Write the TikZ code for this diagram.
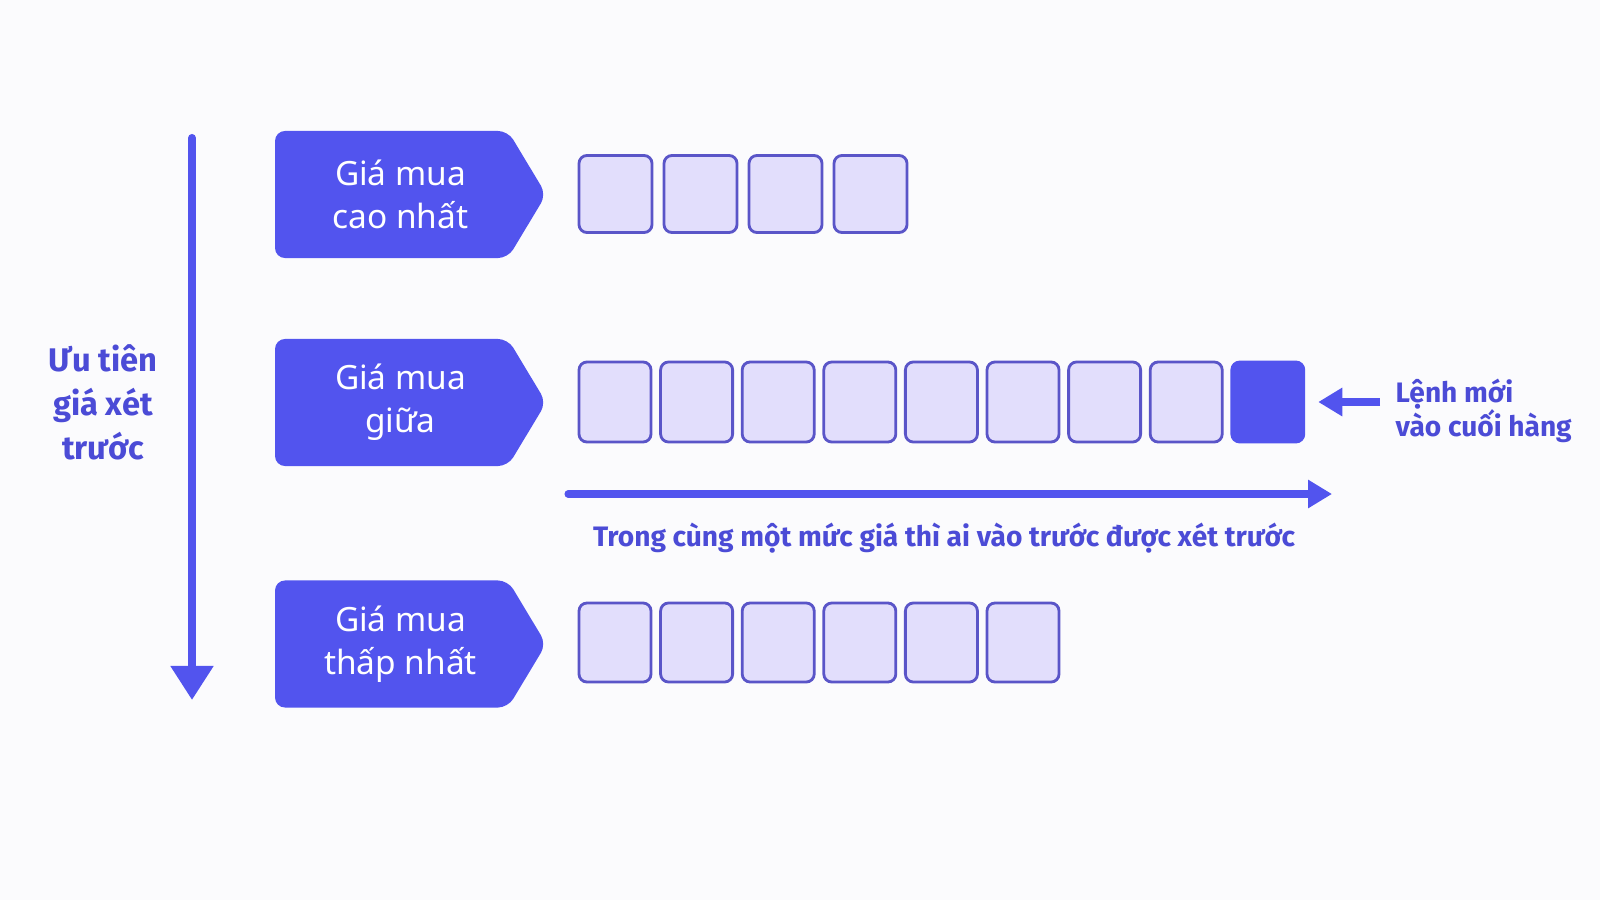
\documentclass[tikz,border=0pt]{standalone}
\usepackage{fontspec}
\setmainfont{Fira Sans}
\newfontfamily\tagfont{Noto Sans}
\usetikzlibrary{arrows.meta,shapes.symbols}

\definecolor{tagblue}{HTML}{5254EE}
\definecolor{inkblue}{HTML}{4B4BD6}
\definecolor{slotfill}{HTML}{E2DEFC}
\definecolor{slotline}{HTML}{5A55C8}
\definecolor{bg}{HTML}{FBFBFD}

\tikzset{
  tag/.style={shape=signal, signal to=east, signal pointer angle=118,
    fill=tagblue, rounded corners=0.1cm, minimum width=2.71cm, minimum height=1.27cm,
    inner sep=0pt},
  tagtext/.style={text=white, align=center, inner sep=0pt,
    font=\tagfont\fontsize{9.5}{12.2}\selectfont},
  slot/.style={draw=slotline, fill=slotfill, line width=0.8pt, rounded corners=0.08cm,
    minimum width=0.72cm, minimum height=0.8cm, inner sep=0pt},
  newslot/.style={slot, draw=tagblue, fill=tagblue},
  note/.style={text=inkblue, inner sep=0pt, font=\bfseries\fontsize{8}{9.7}\selectfont},
  arr/.style={draw=tagblue, line width=2pt, -{Triangle[width=0.27cm,length=0.24cm]}}
}

\begin{document}
\begin{tikzpicture}[x=0.01cm, y=-0.01cm]
  % canvas
  \fill[bg] (0,0) rectangle (1600,900);

  % Price priority arrow
  \coordinate (prio top) at (192,138);
  \coordinate (prio end) at (192,700);
  \draw[draw=tagblue, line width=2.3pt, line cap=round, -{Triangle[width=0.41cm,length=0.34cm]}] (prio top) -- (prio end);
  \node[note, align=center, font=\bfseries\fontsize{9.3}{12.5}\selectfont] (prio) at (103,402) {Ưu tiên\\giá xét\\trước};

  % Price levels
  \node[tag] (high) at (391.5,194.5) {};
  \node[tag] (mid) at (391.5,402.5) {};
  \node[tag] (low) at (391.5,644) {};
  \node[tagtext] (high txt) at ([xshift=0.09cm]high.center) {Giá mua\\cao nhất};
  \node[tagtext] (mid txt) at ([xshift=0.09cm]mid.center) {Giá mua\\giữa};
  \node[tagtext] (low txt) at ([xshift=0.09cm]low.center) {Giá mua\\thấp nhất};

  % Queues
  \foreach \i in {0,...,3}
    \node[slot, minimum width=0.73cm, minimum height=0.77cm] (h\i) at (615.5+85*\i,194) {};
  \foreach \i in {0,...,7}
    \node[slot] (m\i) at (615+81.6*\i,402) {};
  \node[newslot] (new) at (615+81.6*8,402) {};
  \foreach \i in {0,...,5}
    \node[slot, minimum height=0.79cm] (l\i) at (615+81.6*\i,642.5) {};

  % New order
  \node[note, anchor=west, align=left] (newtxt) at (1395,411) {Lệnh mới\\vào cuối hàng};
  \draw[arr, shorten <=0.15cm, shorten >=0.13cm] (newtxt.west |- new.east) -- (new.east);

  % Time priority
  \coordinate (time start) at (568,494);
  \coordinate (time end) at (1332,494);
  \draw[arr, line cap=round] (time start) -- (time end);
  \node[note] (time) at (944,538) {Trong cùng một mức giá thì ai vào trước được xét trước};
\end{tikzpicture}
\end{document}
